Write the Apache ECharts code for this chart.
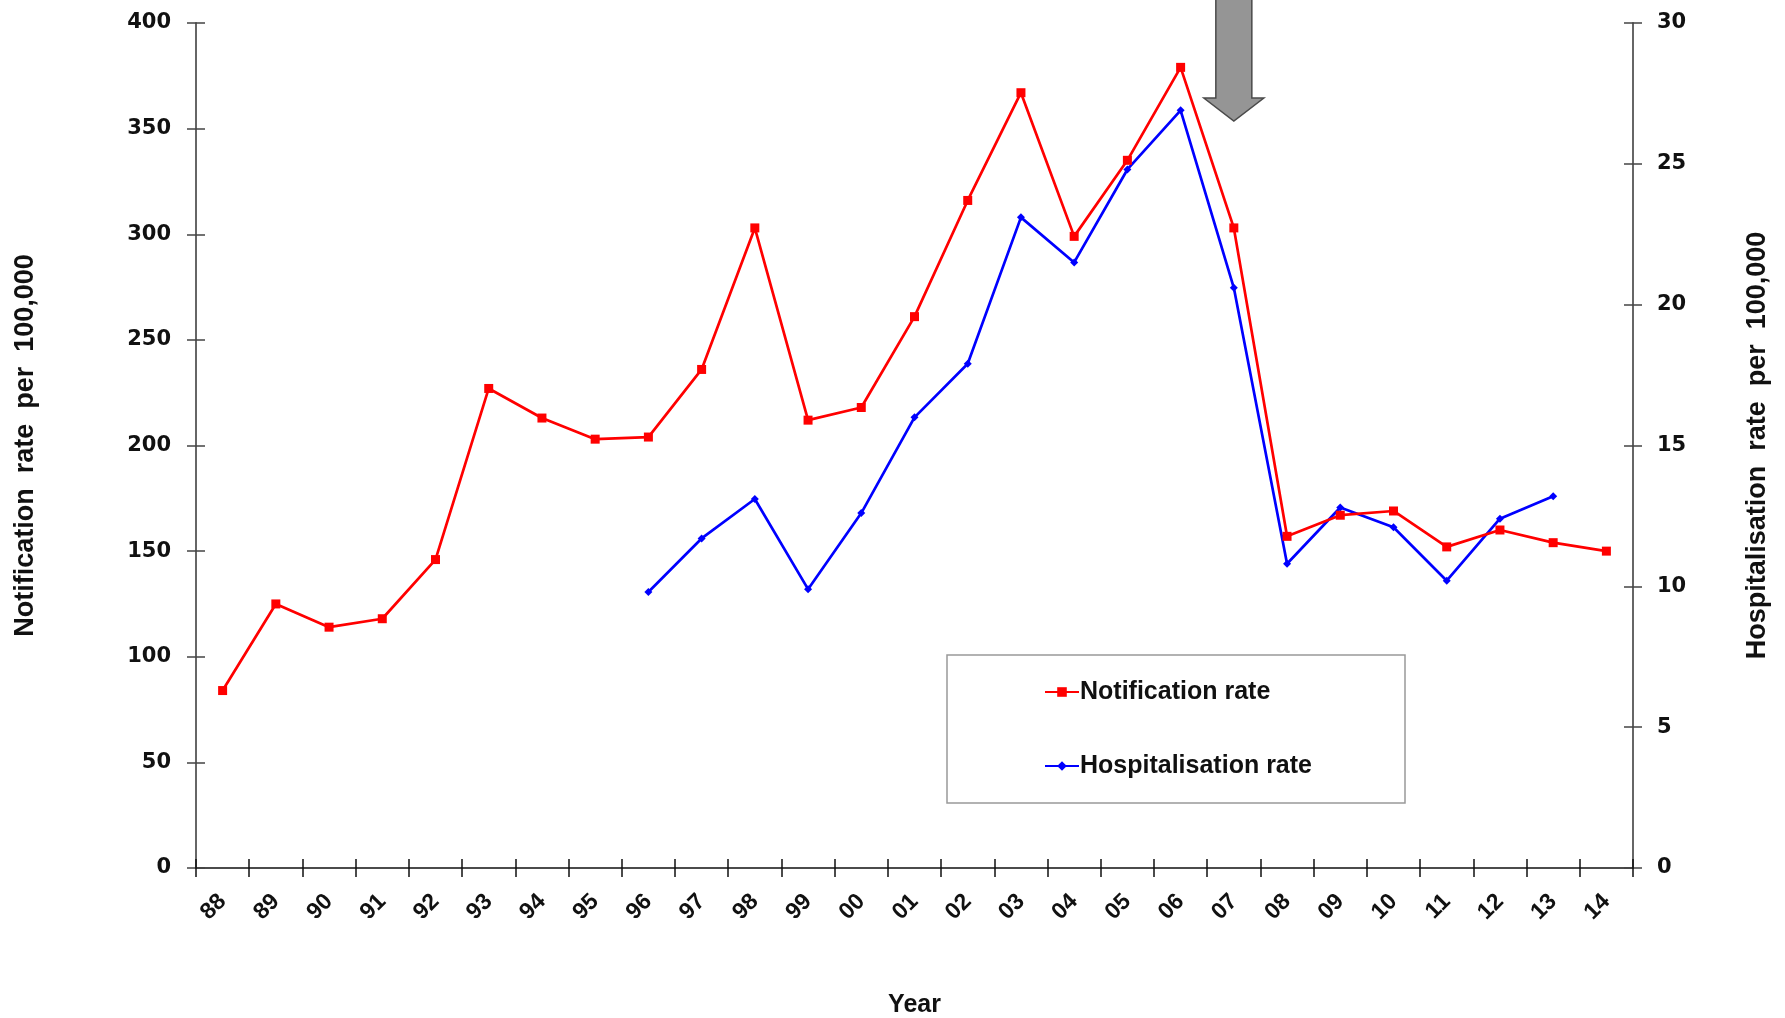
<!DOCTYPE html>
<html>
<head>
<meta charset="utf-8">
<script src="https://cdn.jsdelivr.net/npm/echarts@6/dist/echarts.min.js"></script>
<style>
  html, body { margin: 0; padding: 0; background: #fff; }
  #chart { width: 1785px; height: 1018px; }
</style>
</head>
<body>
<div id="chart"></div>
<script>
// 数据
const years = ['88', '89', '90', '91', '92', '93', '94', '95', '96', '97', '98', '99', '00',
  '01', '02', '03', '04', '05', '06', '07', '08', '09', '10', '11', '12', '13', '14'];
const notificationRate = [84, 125, 114, 118, 146, 227, 213, 203, 204, 236, 303, 212, 218,
  261, 316, 367, 299, 335, 379, 303, 157, 167, 169, 152, 160, 154, 150];
const hospitalisationRate = [null, null, null, null, null, null, null, null, 9.8, 11.7, 13.1, 9.9, 12.6,
  16.0, 17.9, 23.1, 21.5, 24.8, 26.9, 20.6, 10.8, 12.8, 12.1, 10.2, 12.4, 13.2, null];
const leftTicks = { min: 0, max: 400, interval: 50 };
const rightTicks = { min: 0, max: 30, interval: 5 };
const arrowYear = '07';

const chart = echarts.init(document.getElementById('chart'));

const labelFont = { fontFamily: 'DejaVu Sans', fontWeight: 'bold', fontSize: 21, color: '#111' };
const nameFont = { fontFamily: 'Liberation Sans', fontWeight: 'bold', fontSize: 27, color: '#111' };
const textFont = 'Liberation Sans, Arial, sans-serif';

// 双向刻度: 一组坐标轴刻度朝外, 另一组朝内
const yAxisBase = (ticks, pos, inside) => ({
  type: 'value',
  position: pos,
  min: ticks.min,
  max: ticks.max,
  interval: ticks.interval,
  splitLine: { show: false },
  axisLine: { show: !inside, lineStyle: { color: '#666', width: 2 } },
  axisTick: { show: true, inside: inside, length: 9, lineStyle: { color: '#444', width: 1.5 } },
  axisLabel: inside ? { show: false } : Object.assign({ margin: pos === 'left' ? 25 : 24 }, labelFont)
});

const option = {
  animation: false,
  backgroundColor: '#fff',
  grid: { left: 196, right: 152, top: 23, bottom: 150, containLabel: false, outerBoundsMode: 'none' },
  legend: {
    orient: 'vertical',
    left: 1044,
    top: 678,
    itemWidth: 34,
    itemHeight: 12,
    itemGap: 46,
    padding: 0,
    data: ['Notification rate', 'Hospitalisation rate'],
    textStyle: { fontFamily: textFont, fontWeight: 'bold', fontSize: 25, color: '#111', lineHeight: 28, padding: [0, 0, 0, -4] }
  },
  xAxis: [
    {
      type: 'category',
      data: years,
      boundaryGap: true,
      name: 'Year',
      nameLocation: 'middle',
      nameGap: 125,
      nameTextStyle: { fontFamily: textFont, fontWeight: 'bold', fontSize: 25, color: '#111' },
      axisLine: { lineStyle: { color: '#111', width: 1.5 } },
      axisTick: { show: true, length: 9, alignWithLabel: false, lineStyle: { color: '#111', width: 1.5 } },
      axisLabel: { rotate: 45, margin: 30, interval: 0, fontFamily: textFont, fontWeight: 'bold', fontSize: 23, color: '#111' }
    },
    {
      type: 'category',
      data: years,
      boundaryGap: true,
      position: 'bottom',
      axisLine: { show: false },
      axisTick: { show: true, inside: true, length: 9, lineStyle: { color: '#111', width: 1.5 } },
      axisLabel: { show: false }
    }
  ],
  yAxis: [
    Object.assign(yAxisBase(leftTicks, 'left', false), {
      name: 'Notification  rate  per  100,000',
      nameLocation: 'middle',
      nameGap: 157,
      nameTextStyle: nameFont
    }),
    Object.assign(yAxisBase(rightTicks, 'right', false), {
      name: 'Hospitalisation  rate  per  100,000',
      nameLocation: 'middle',
      nameGap: 111,
      nameRotate: 90,
      nameTextStyle: nameFont
    }),
    yAxisBase(leftTicks, 'left', true),
    yAxisBase(rightTicks, 'right', true)
  ],
  series: [
    {
      name: 'Notification rate',
      type: 'line',
      xAxisIndex: 0,
      yAxisIndex: 0,
      data: notificationRate,
      symbol: 'rect',
      symbolSize: 9,
      color: '#ff0000',
      lineStyle: { color: '#ff0000', width: 2.7 },
      itemStyle: { color: '#ff0000' },
      z: 3
    },
    {
      name: 'Hospitalisation rate',
      type: 'line',
      xAxisIndex: 0,
      yAxisIndex: 1,
      data: hospitalisationRate,
      symbol: 'diamond',
      symbolSize: 8,
      color: '#0000ff',
      lineStyle: { color: '#0000ff', width: 2.7 },
      itemStyle: { color: '#0000ff' },
      z: 2
    }
  ]
};

chart.setOption(option);

// 图例外框和箭头
const ax = chart.convertToPixel({ xAxisIndex: 0 }, arrowYear);
chart.setOption({
  graphic: [
    {
      type: 'rect',
      shape: { x: 947, y: 655, width: 458, height: 148 },
      style: { fill: 'none', stroke: '#999', lineWidth: 1.5 },
      z: 1
    },
    {
      type: 'polygon',
      shape: {
        points: [
          [ax - 18, -2], [ax + 18, -2], [ax + 18, 98], [ax + 30, 98],
          [ax, 121], [ax - 30, 98], [ax - 18, 98]
        ]
      },
      style: { fill: '#959595', stroke: '#4a4a4a', lineWidth: 1.5 },
      z: 10
    }
  ]
});

window.addEventListener('resize', () => chart.resize());
</script>
</body>
</html>
